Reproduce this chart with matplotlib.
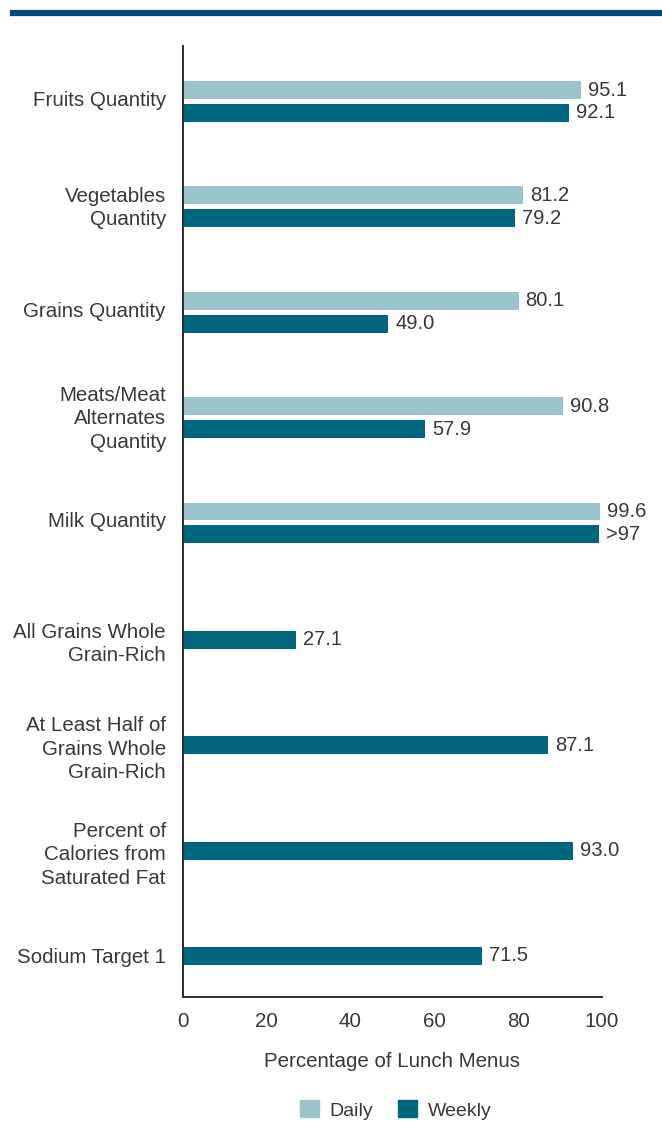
import numpy as np
from matplotlib import pyplot as plt
from matplotlib.patches import Patch

# chart data
categories = ['Fruits Quantity', 'Vegetables\nQuantity', 'Grains Quantity',
              'Meats/Meat\nAlternates\nQuantity', 'Milk Quantity',
              'All Grains Whole\nGrain-Rich', 'At Least Half of\nGrains Whole\nGrain-Rich',
              'Percent of\nCalories from\nSaturated Fat', 'Sodium Target 1']
daily = [95.1, 81.2, 80.1, 90.8, 99.6]
weekly = [92.1, 79.2, 49.0, 57.9, 99.2, 27.1, 87.1, 93.0, 71.5]
weekly_labels = ['92.1', '79.2', '49.0', '57.9', '>97', '27.1', '87.1', '93.0', '71.5']

daily_color = '#9bc4cd'
weekly_color = '#00677f'
text_color = '#383838'

plt.rcParams['font.family'] = ['Liberation Sans', 'DejaVu Sans']

fig = plt.figure(figsize=(6.62, 11.21), dpi=100)
ax = fig.add_axes([0.2757, 0.1106, 0.6337, 0.8483])

bar_h = 0.17
offset = 0.218
y_weekly = np.arange(len(weekly))
y_daily = np.arange(len(daily)) - offset

ax.barh(y_daily, daily, height=bar_h, color=daily_color)
ax.barh(y_weekly, weekly, height=bar_h, color=weekly_color)

for y, v in zip(y_daily, daily):
    ax.annotate(f'{v:.1f}', (v, y), xytext=(5, 0), textcoords='offset points',
                va='center', ha='left', fontsize=14.5, color=text_color)
for y, v, s in zip(y_weekly, weekly, weekly_labels):
    ax.annotate(s, (v, y), xytext=(5, 0), textcoords='offset points',
                va='center', ha='left', fontsize=14.5, color=text_color)

# label sits between the pair, or on the single bar
label_y = [i - offset / 2 - 0.03 if i < len(daily) else i for i in range(len(categories))]
ax.set_yticks(label_y)
ax.set_yticklabels(categories, fontsize=14.8, color=text_color, linespacing=1.3)

ax.set_xlim(0, 100)
ax.set_ylim(8.39, -0.635)
ax.set_xticks(range(0, 101, 20))
ax.tick_params(axis='x', length=0, pad=11, labelsize=14.8, labelcolor=text_color)
ax.tick_params(axis='y', length=0, pad=12)
ax.set_xlabel('Percentage of Lunch Menus', fontsize=14.8, color=text_color, labelpad=15)

for side in ['top', 'right']:
    ax.spines[side].set_visible(False)
for side in ['left', 'bottom']:
    ax.spines[side].set_color('#2b2b2b')
    ax.spines[side].set_linewidth(1.4)

# blue rule along the top
fig.add_artist(plt.Line2D([13 / 662, 1.0], [1 - 13 / 1121, 1 - 13 / 1121],
                          color='#03467f', linewidth=4.5, transform=fig.transFigure))

handles = [Patch(color=daily_color, label='Daily'), Patch(color=weekly_color, label='Weekly')]
fig.legend(handles=handles, loc='center', bbox_to_anchor=(0.598, 0.0098), ncol=2,
           frameon=False, fontsize=14, handlelength=0.95, handleheight=0.95,
           handletextpad=0.55, columnspacing=1.3, labelcolor=text_color)

plt.savefig('out.png', dpi=100)
